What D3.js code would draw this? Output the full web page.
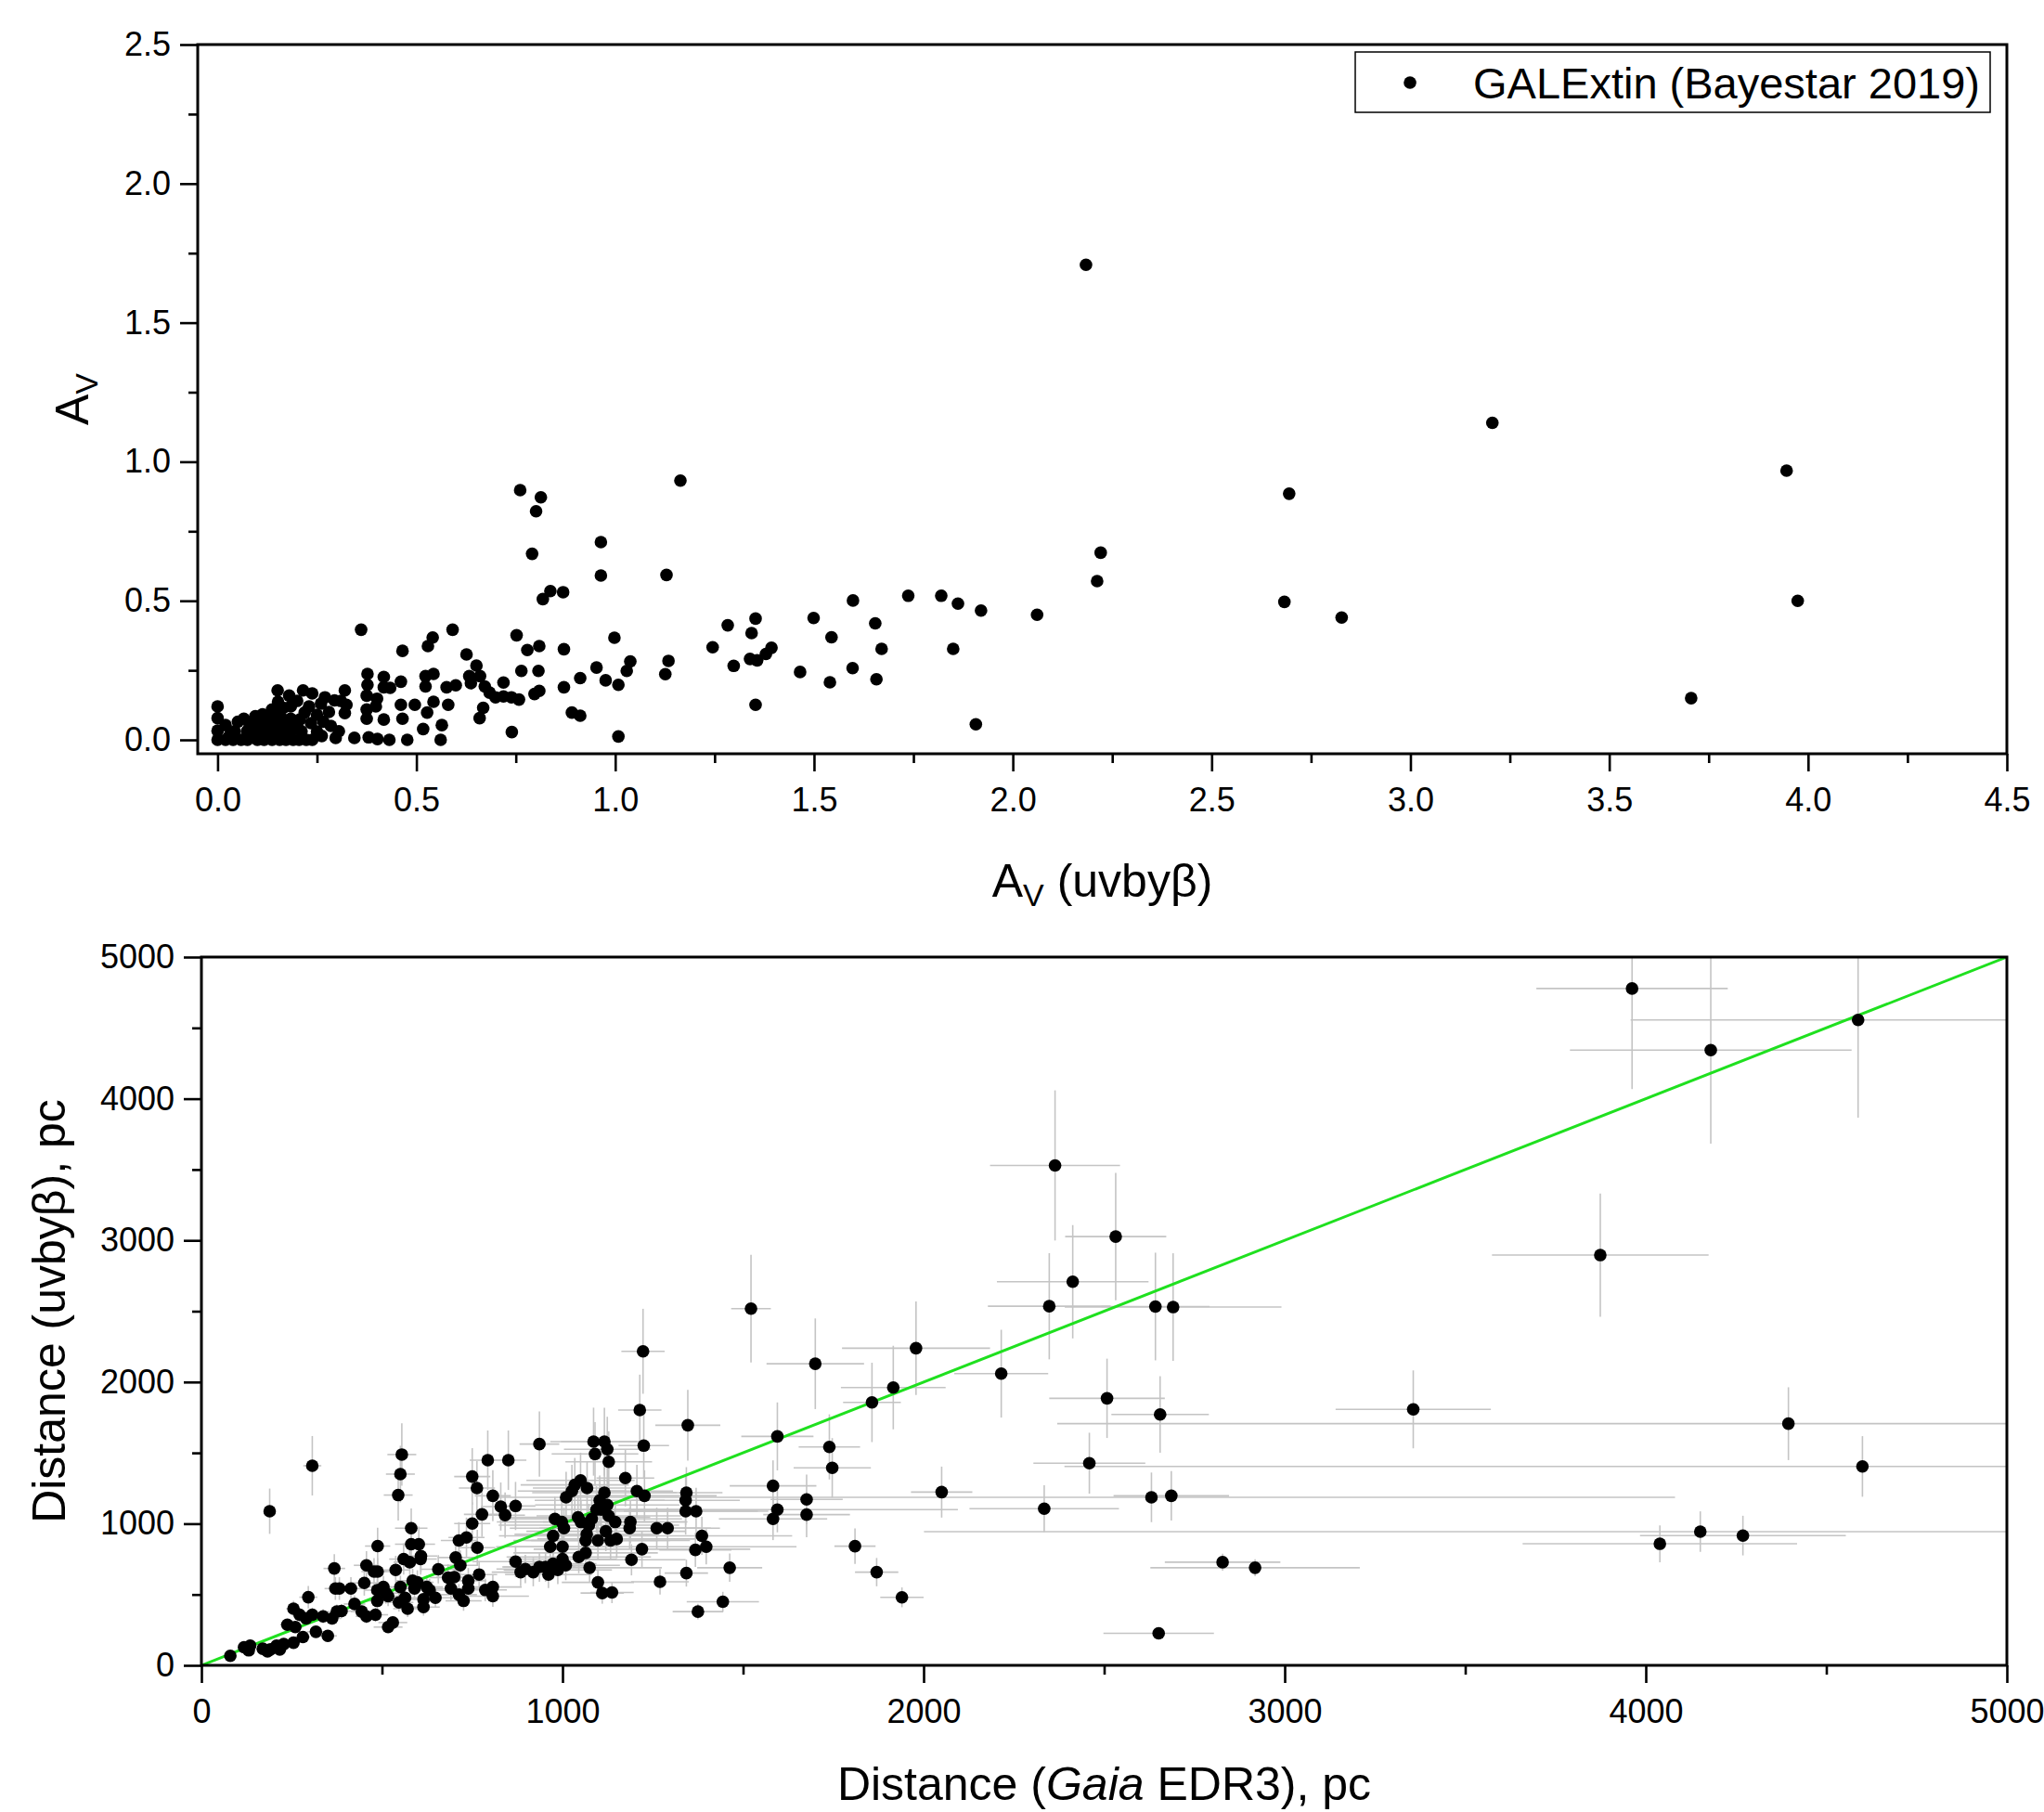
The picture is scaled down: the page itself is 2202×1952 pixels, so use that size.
<!DOCTYPE html>
<html>
<head>
<meta charset="utf-8">
<script src="https://cdn.jsdelivr.net/npm/d3@7"></script>
<style>
  body { margin: 0; background: #fff; }
  svg { display: block; font-family: "Liberation Sans", Arial, sans-serif; }
</style>
</head>
<body>
<div id="chart"></div>
<script>
// Painel de cima: A_V (uvbyβ) contra A_V (GALExtin, Bayestar 2019)
const galPoints = [
  [0.0,0.0],[0.0,0.033],[0.0,0.078],[0.0,0.120],[0.020,0.0],[0.039,0.0],[0.059,0.0],[0.020,0.053],
  [0.043,0.031],[0.051,0.065],[0.066,0.076],[0.074,0.031],[0.086,0.009],[0.090,0.065],[0.098,0.026],
  [0.105,0.053],[0.113,0.092],[0.117,0.0],[0.125,0.076],[0.133,0.031],[0.137,0.0],[0.137,0.109],
  [0.145,0.087],[0.152,0.053],[0.151,0.178],[0.152,0.137],[0.156,0.0],[0.164,0.053],[0.172,0.0],
  [0.180,0.159],[0.184,0.031],[0.184,0.076],[0.184,0.120],[0.207,0.073],[0.211,0.031],[0.215,0.178],
  [0.219,0.098],[0.223,0.0],[0.238,0.0],[0.238,0.167],[0.262,0.014],[0.266,0.065],[0.270,0.153],
  [0.294,0.142],[0.297,0.007],[0.305,0.031],[0.320,0.178],[0.324,0.126],[0.320,0.096],[0.344,0.007],
  [0.030,0.015],[0.075,0.0],[0.080,0.045],[0.100,0.0],[0.110,0.040],[0.120,0.020],[0.130,0.060],
  [0.145,0.020],[0.150,0.100],[0.160,0.080],[0.170,0.030],[0.190,0.0],[0.200,0.050],[0.200,0.140],
  [0.230,0.120],[0.250,0.090],[0.250,0.030],[0.280,0.100],[0.205,0.0],[0.260,0.130],[0.165,0.115],
  [0.125,0.005],[0.095,0.085],[0.175,0.060],[0.235,0.060],[0.285,0.050],[0.310,0.140],
  [0.361,0.396],[0.375,0.076],[0.375,0.109],[0.375,0.159],[0.377,0.198],[0.377,0.237],[0.380,0.009],
  [0.398,0.120],[0.401,0.148],[0.402,0.003],[0.418,0.073],[0.418,0.189],[0.418,0.226],[0.434,0.187],
  [0.432,0.0],[0.461,0.126],[0.461,0.209],[0.465,0.076],[0.465,0.320],[0.477,0.0],[0.496,0.126],
  [0.517,0.039],[0.523,0.192],[0.523,0.229],[0.527,0.098],[0.529,0.337],[0.541,0.368],[0.543,0.137],
  [0.543,0.237],[0.561,0.0],[0.564,0.053],[0.576,0.189],[0.580,0.126],[0.591,0.396],[0.599,0.196],
  [0.626,0.307],[0.633,0.229],[0.637,0.204],[0.651,0.267],[0.659,0.078],[0.660,0.229],[0.668,0.115],
  [0.672,0.192],[0.684,0.170],[0.699,0.153],[0.719,0.156],[0.719,0.206],[0.739,0.153],[0.740,0.028],
  [0.752,0.376],[0.758,0.145],[0.764,0.248],[0.779,0.323],[0.797,0.165],[0.807,0.248],[0.809,0.176],
  [0.809,0.337],[0.818,0.506],[0.837,0.535],[0.869,0.531],[0.871,0.326],[0.871,0.189],[0.891,0.098],
  [0.912,0.087],[0.912,0.222],[0.761,0.898],[0.813,0.872],[0.801,0.822],[0.791,0.669],[0.964,0.711],
  [0.964,0.591],[1.129,0.593],[1.164,0.932],[0.998,0.367],[1.038,0.282],[1.029,0.248],[1.134,0.284],
  [1.126,0.236],[0.953,0.260],[0.976,0.214],[1.008,0.198],[1.008,0.012],[1.245,0.333],[1.283,0.412],
  [1.298,0.266],[1.343,0.384],[1.353,0.436],[1.339,0.291],[1.357,0.286],[1.379,0.309],[1.393,0.331],
  [1.353,0.126],[1.465,0.244],[1.499,0.438],[1.544,0.369],[1.540,0.207],[1.598,0.501],[1.597,0.258],
  [1.654,0.419],[1.670,0.327],[1.657,0.218],[1.737,0.518],[1.820,0.518],[1.862,0.490],[1.850,0.327],
  [1.920,0.465],[1.907,0.056],[2.061,0.450],[2.184,1.708],[2.212,0.571],[2.221,0.673],[2.683,0.496],
  [2.695,0.885],[2.827,0.440],[3.206,1.140],[3.706,0.150],[3.946,0.968],[3.974,0.500]
];
const topXTicks = [0, 0.5, 1.0, 1.5, 2.0, 2.5, 3.0, 3.5, 4.0, 4.5];
const topYTicks = [0, 0.5, 1.0, 1.5, 2.0, 2.5];
const legendLabel = "GALExtin (Bayestar 2019)";

// Painel de baixo: [distância Gaia, distância uvbyβ, erro Gaia, erro uvbyβ] em pc
const distPoints = [
  [80,67,10,15],[118,128,12,20],[131,106,12,18],[135,139,12,20],[170,117,15,20],[183,99,15,18],
  [191,112,15,20],[208,139,15,25],[217,112,15,20],[228,150,15,25],[255,160,15,25],[238,287,20,40],
  [255,400,20,55],[260,270,20,40],[272,357,20,50],[281,200,20,30],[290,331,20,45],[317,237,25,35],
  [296,481,25,80],[307,357,25,50],[337,346,25,50],[350,208,25,30],[362,331,25,45],[375,379,30,50],
  [388,383,30,50],[368,684,30,100],[371,542,30,80],[382,542,30,80],[414,542,30,80],[424,433,30,60],
  [444,379,30,55],[457,346,30,50],[482,357,35,50],[451,582,35,90],[457,706,35,100],[478,662,35,95],
  [488,662,35,95],[487,531,35,80],[488,842,35,130],[487,455,35,65],[504,553,40,80],[511,510,40,75],
  [517,488,40,70],[517,270,40,40],[530,302,40,45],[538,673,40,100],[547,444,40,65],[551,553,40,80],
  [560,750,40,110],[571,400,40,60],[564,477,40,70],[577,728,45,105],[581,968,45,140],[581,855,45,125],
  [585,597,45,85],[590,542,45,80],[598,586,45,85],[602,855,45,125],[607,750,45,110],[608,772,45,115],
  [615,466,45,70],[615,411,45,60],[624,553,45,80],[632,531,45,80],[648,477,50,70],[656,678,50,100],
  [555,1488,40,220],[551,1350,40,200],[545,1202,40,180],[307,1409,25,210],[189,1088,15,160],
  [1223,2217,60,300],[1214,1802,60,250],[1225,1551,70,230],[1347,1695,90,250],[1595,1616,100,240],
  [1583,1267,120,180],[1583,1034,150,150],[1595,1099,500,160],[936,1562,55,230],[793,1448,50,210],
  [850,1448,50,210],[750,1333,50,200],[763,1252,50,190],[807,1197,50,180],[829,1121,55,170],
  [841,1060,55,160],[870,1125,55,170],[777,1066,50,160],[750,1001,50,150],[734,903,50,140],
  [713,881,50,130],[764,831,50,125],[704,761,50,115],[717,706,50,105],[700,623,50,95],[683,619,50,95],
  [691,542,50,80],[713,499,50,75],[726,455,50,70],[739,597,50,90],[739,542,50,80],[769,641,50,95],
  [786,532,60,80],[807,553,80,85],[807,488,100,75],[870,732,120,110],[884,658,80,100],[897,680,80,100],
  [919,658,80,100],[936,695,100,105],[953,695,120,105],[961,641,120,95],[974,717,120,110],
  [987,673,150,100],[1000,750,150,110],[1009,706,150,105],[1000,837,150,125],[966,837,150,125],
  [974,914,150,135],[979,1034,150,155],[1004,968,150,145],[998,1012,180,150],[1043,1045,200,155],
  [1045,765,200,115],[1064,794,200,120],[1064,881,200,130],[1067,925,200,140],[1075,689,200,105],
  [1098,586,100,90],[1110,510,60,75],[1137,514,60,75],[1098,881,200,130],[1120,946,220,140],
  [1133,881,220,130],[1150,892,220,135],[1146,1012,200,150],[1128,1055,200,160],[1107,1099,250,165],
  [1094,1099,250,165],[1081,1034,250,155],[1073,990,250,150],[1051,1012,220,150],[1124,1132,200,170],
  [1116,1219,200,180],[1103,1165,180,175],[1068,1252,150,190],[1050,1306,150,195],[1034,1274,150,190],
  [1026,1230,150,185],[1010,1186,200,180],[1086,1579,120,240],[1116,1579,120,240],[1124,1525,120,230],
  [1090,1492,120,225],[1128,1437,120,215],[1174,1322,80,200],[1206,1230,100,185],[1227,1197,200,180],
  [1188,1012,150,150],[1186,968,250,145],[1220,820,300,125],[1191,745,150,110],[1261,968,120,145],
  [1291,968,120,145],[1270,590,80,90],[1343,1219,100,180],[1341,1165,150,175],[1341,1088,200,165],
  [1370,1088,200,165],[1386,914,250,135],[1398,837,250,125],[1368,815,100,120],[1343,651,60,95],
  [1463,689,90,100],[1444,449,100,70],[1375,379,70,55],
  [1522,2518,55,380],[1676,1171,100,175],[1676,1064,120,160],[1700,2129,135,320],[1739,1542,85,230],
  [1747,1394,107,210],[1810,841,57,125],[1870,658,60,100],[1940,480,60,70],[2050,1223,85,180],
  [2215,2059,130,310],[1916,1961,145,295],[1857,1856,80,280],[1979,2239,205,330],[2364,3529,180,530],
  [2532,3027,140,450],[2413,2708,210,400],[2348,2535,170,375],[2642,2533,150,380],[2691,2529,300,380],
  [2508,1885,160,280],[2655,1771,135,270],[2459,1427,155,215],[2334,1106,207,165],[2631,1186,1450,175],
  [2686,1197,160,175],[2828,728,160,60],[2918,689,290,60],[2651,226,153,35],
  [3962,4778,265,710],[4180,4343,390,660],[4588,4556,630,690],[3874,2896,300,435],[3356,1807,215,275],
  [4395,1706,2025,257],[4600,1404,2210,214],[4039,858,380,130],[4151,944,2150,143],[4269,916,285,140]
];
const distTicks = [0, 1000, 2000, 3000, 4000, 5000];
const distMinor = [500, 1500, 2500, 3500, 4500];

const W = 2202, H = 1952;
const svg = d3.select("#chart").append("svg")
    .attr("width", W)
    .attr("height", H);

// eixos com marcas principais e secundárias, só à esquerda e em baixo
function drawAxes(g, x, y, xMajor, xMinor, yMajor, yMinor, fmt) {
    const [x0, x1] = x.range();
    const [y0, y1] = y.range();

    g.append("g")
        .attr("transform", `translate(0,${y0})`)
        .call(d3.axisBottom(x).tickValues(xMinor).tickSize(10).tickFormat(""))
        .call(a => a.select(".domain").remove());
    g.append("g")
        .attr("transform", `translate(0,${y0})`)
        .call(d3.axisBottom(x).tickValues(xMajor).tickSize(19).tickPadding(17).tickFormat(fmt))
        .call(a => a.select(".domain").remove());
    g.append("g")
        .attr("transform", `translate(${x0},0)`)
        .call(d3.axisLeft(y).tickValues(yMinor).tickSize(10).tickFormat(""))
        .call(a => a.select(".domain").remove());
    g.append("g")
        .attr("transform", `translate(${x0},0)`)
        .call(d3.axisLeft(y).tickValues(yMajor).tickSize(19).tickPadding(10).tickFormat(fmt))
        .call(a => a.select(".domain").remove());

    g.selectAll(".tick line").attr("stroke", "#000").attr("stroke-width", 2.6);
    g.selectAll(".tick text")
        .attr("font-size", 36)
        .attr("font-family", "Liberation Sans, Arial, sans-serif")
        .attr("fill", "#000");

    g.append("rect")
        .attr("x", x0).attr("y", y1)
        .attr("width", x1 - x0).attr("height", y0 - y1)
        .attr("fill", "none")
        .attr("stroke", "#000")
        .attr("stroke-width", 3);
}

// ---------- Painel de cima ----------
const xTop = d3.scaleLinear().domain([-0.05, 4.5]).range([213, 2162]);
const yTop = d3.scaleLinear().domain([-0.05, 2.5]).range([812, 48]);
const gTop = svg.append("g");

gTop.selectAll("circle")
    .data(galPoints)
    .enter()
    .append("circle")
    .attr("cx", d => xTop(d[0]))
    .attr("cy", d => yTop(d[1]))
    .attr("r", 6.8)
    .attr("fill", "#000");

drawAxes(gTop, xTop, yTop,
    topXTicks, d3.range(0.25, 4.5, 0.5),
    topYTicks, d3.range(0.25, 2.5, 0.5),
    d3.format(".1f"));

// legenda
const leg = gTop.append("g");
leg.append("rect")
    .attr("x", 1460).attr("y", 56)
    .attr("width", 684).attr("height", 65)
    .attr("fill", "#fff")
    .attr("stroke", "#000")
    .attr("stroke-width", 1.5);
leg.append("circle")
    .attr("cx", 1519).attr("cy", 89)
    .attr("r", 6.8)
    .attr("fill", "#000");
leg.append("text")
    .attr("x", 1587).attr("y", 106)
    .attr("font-size", 47)
    .text(legendLabel);

// títulos
const tX = gTop.append("text")
    .attr("x", (xTop.range()[0] + xTop.range()[1]) / 2)
    .attr("y", 966)
    .attr("text-anchor", "middle")
    .attr("font-size", 50);
tX.append("tspan").text("A");
tX.append("tspan").attr("font-size", 34).attr("dy", 10).text("V");
tX.append("tspan").attr("dy", -10).text(" (uvbyβ)");

const tY = gTop.append("text")
    .attr("transform", `translate(95,${(yTop.range()[0] + yTop.range()[1]) / 2}) rotate(-90)`)
    .attr("text-anchor", "middle")
    .attr("font-size", 50);
tY.append("tspan").text("A");
tY.append("tspan").attr("font-size", 34).attr("dy", 10).text("V");

// ---------- Painel de baixo ----------
const xBot = d3.scaleLinear().domain([0, 5000]).range([217, 2162]);
const yBot = d3.scaleLinear().domain([0, 5000]).range([1794, 1031]);
const gBot = svg.append("g");

gBot.append("clipPath").attr("id", "clipBot")
    .append("rect")
    .attr("x", 217).attr("y", 1031)
    .attr("width", 2162 - 217).attr("height", 1794 - 1031);

const plotBot = gBot.append("g").attr("clip-path", "url(#clipBot)");

// barras de erro (cinzento claro)
plotBot.selectAll("line.ex")
    .data(distPoints)
    .enter()
    .append("line")
    .attr("class", "ex")
    .attr("x1", d => xBot(d[0] - d[2]))
    .attr("x2", d => xBot(d[0] + d[2]))
    .attr("y1", d => yBot(d[1]))
    .attr("y2", d => yBot(d[1]))
    .attr("stroke", "#c4c4c4")
    .attr("stroke-width", 1.6);
plotBot.selectAll("line.ey")
    .data(distPoints)
    .enter()
    .append("line")
    .attr("class", "ey")
    .attr("x1", d => xBot(d[0]))
    .attr("x2", d => xBot(d[0]))
    .attr("y1", d => yBot(d[1] - d[3]))
    .attr("y2", d => yBot(d[1] + d[3]))
    .attr("stroke", "#c4c4c4")
    .attr("stroke-width", 1.6);

// linha 1:1
plotBot.append("line")
    .attr("x1", xBot(0)).attr("y1", yBot(0))
    .attr("x2", xBot(5000)).attr("y2", yBot(5000))
    .attr("stroke", "#1fe01f")
    .attr("stroke-width", 3);

plotBot.selectAll("circle")
    .data(distPoints)
    .enter()
    .append("circle")
    .attr("cx", d => xBot(d[0]))
    .attr("cy", d => yBot(d[1]))
    .attr("r", 6.8)
    .attr("fill", "#000");

drawAxes(gBot, xBot, yBot, distTicks, distMinor, distTicks, distMinor, d3.format("d"));

const bX = gBot.append("text")
    .attr("x", (xBot.range()[0] + xBot.range()[1]) / 2)
    .attr("y", 1939)
    .attr("text-anchor", "middle")
    .attr("font-size", 50);
bX.append("tspan").text("Distance (");
bX.append("tspan").attr("font-style", "italic").text("Gaia");
bX.append("tspan").text(" EDR3), pc");

gBot.append("text")
    .attr("transform", `translate(70,${(yBot.range()[0] + yBot.range()[1]) / 2}) rotate(-90)`)
    .attr("text-anchor", "middle")
    .attr("font-size", 50)
    .text("Distance (uvbyβ), pc");
</script>
</body>
</html>
